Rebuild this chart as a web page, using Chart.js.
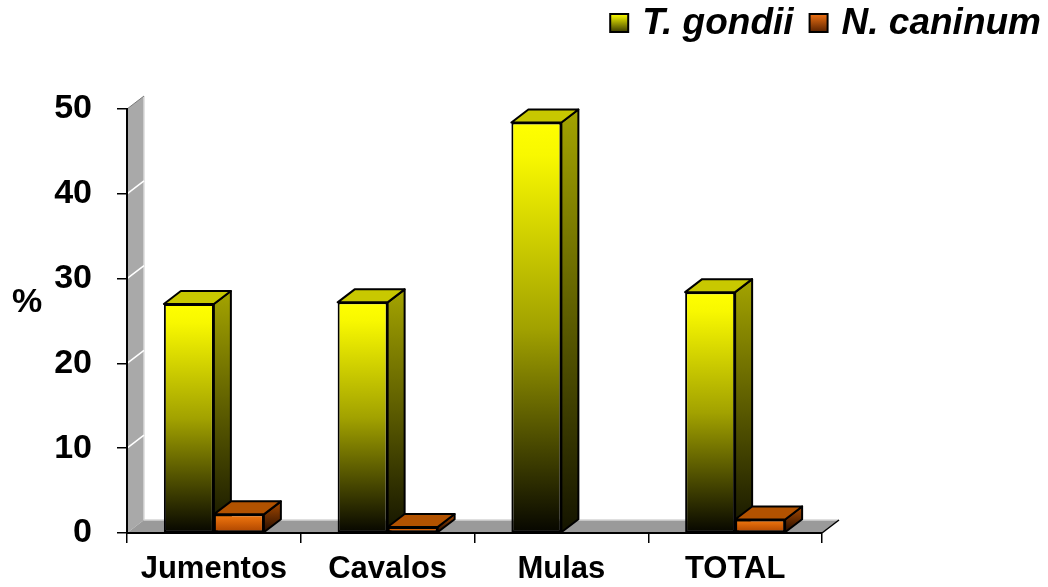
<!DOCTYPE html>
<html>
<head>
<meta charset="utf-8">
<style>
  html, body { margin: 0; padding: 0; background: #ffffff; }
  #wrap { width: 1048px; height: 587px; }
</style>
<script src="https://cdn.jsdelivr.net/npm/chart.js@4.4.1/dist/chart.umd.min.js"></script>
</head>
<body>
<div id="wrap"><canvas id="c" width="1048" height="587"></canvas></div>
<script>
// Seroprevalence (%) by animal group
const categories = ['Jumentos', 'Cavalos', 'Mulas', 'TOTAL'];
const tGondii    = [27.0, 27.2, 48.4, 28.4];
const nCaninum   = [2.2, 0.7, 0, 1.6];
const seriesNames = ['T. gondii', 'N. caninum'];
const yTicks = [0, 10, 20, 30, 40, 50];
const yAxisLabel = '%';

const FONT = '"Liberation Sans", Arial, Helvetica, sans-serif';
const DEPTH_X = 17;   // horizontal shift of the receding edges
const DEPTH_Y = 13;   // vertical shift of the receding edges

const palettes = [
  { front: ['#ffff00', '#f8f800', '#a2a200', '#060600'], side: ['#a4a400', '#141400'], top: '#c8c800', key: ['#ffff00', '#3c3c00'] },
  { front: ['#f27c12', '#ee7610', '#d05e06', '#a84200'], side: ['#a84a00', '#240c00'], top: '#b25200', key: ['#f07214', '#5a2200'] }
];

function frontFill(ctx) {
  const chart = ctx.chart;
  const p = palettes[ctx.datasetIndex];
  if (!chart.chartArea || !chart.scales.y) return p.front[0];
  const ys = chart.scales.y;
  const top = ys.getPixelForValue(ctx.raw);
  const base = ys.getPixelForValue(0);
  if (base - top < 1) return p.front[0];
  const g = chart.ctx.createLinearGradient(0, top, 0, base);
  g.addColorStop(0, p.front[0]);
  g.addColorStop(0.08, p.front[1]);
  g.addColorStop(0.5, p.front[2]);
  g.addColorStop(1, p.front[3]);
  return g;
}

function poly(c, pts, fill, stroke, lw) {
  c.beginPath();
  c.moveTo(pts[0][0], pts[0][1]);
  for (let i = 1; i < pts.length; i++) c.lineTo(pts[i][0], pts[i][1]);
  c.closePath();
  if (fill) { c.fillStyle = fill; c.fill(); }
  if (stroke) { c.strokeStyle = stroke; c.lineWidth = lw || 1; c.lineJoin = 'round'; c.stroke(); }
}

// Side wall, floor and the receding faces of each bar
const depthPlugin = {
  id: 'depth3d',
  beforeDraw(chart) {
    const c = chart.ctx;
    const a = chart.chartArea;
    const ys = chart.scales.y;
    const y0 = ys.getPixelForValue(0);
    const yMax = ys.getPixelForValue(ys.max);
    c.save();
    // left wall
    poly(c, [[a.left, y0], [a.left, yMax], [a.left + DEPTH_X, yMax - DEPTH_Y], [a.left + DEPTH_X, y0 - DEPTH_Y]], '#a9a9a9', null);
    c.strokeStyle = '#dadada'; c.lineWidth = 1.5;
    c.beginPath();
    c.moveTo(a.left + DEPTH_X, yMax - DEPTH_Y); c.lineTo(a.left + DEPTH_X, y0 - DEPTH_Y);
    c.stroke();
    c.strokeStyle = '#7a7a7a'; c.lineWidth = 1;
    c.beginPath();
    c.moveTo(a.left, yMax); c.lineTo(a.left + DEPTH_X, yMax - DEPTH_Y);
    c.stroke();
    // wall gridlines
    c.strokeStyle = '#ffffff'; c.lineWidth = 1.5;
    yTicks.forEach(v => {
      if (v === 0 || v === ys.max) return;
      const y = ys.getPixelForValue(v);
      c.beginPath(); c.moveTo(a.left, y); c.lineTo(a.left + DEPTH_X, y - DEPTH_Y); c.stroke();
    });
    // floor
    poly(c, [[a.left, y0], [a.right, y0], [a.right + DEPTH_X, y0 - DEPTH_Y], [a.left + DEPTH_X, y0 - DEPTH_Y]], '#9a9a9a', null);
    c.strokeStyle = '#d4d4d4'; c.lineWidth = 1.5;
    c.beginPath(); c.moveTo(a.left + DEPTH_X, y0 - DEPTH_Y); c.lineTo(a.right + DEPTH_X, y0 - DEPTH_Y); c.stroke();
    c.strokeStyle = '#000000'; c.lineWidth = 1.5;
    c.beginPath(); c.moveTo(a.right, y0); c.lineTo(a.right + DEPTH_X, y0 - DEPTH_Y); c.stroke();
    c.restore();
  },
  beforeDatasetsDraw(chart) {
    const c = chart.ctx;
    c.save();
    chart.data.datasets.forEach((ds, di) => {
      const meta = chart.getDatasetMeta(di);
      const p = palettes[di];
      meta.data.forEach((el, i) => {
        if (!(ds.data[i] > 0)) return;
        const { x, y, base, width } = el.getProps(['x', 'y', 'base', 'width'], true);
        const l = x - width / 2, r = x + width / 2;
        const g = c.createLinearGradient(0, y - DEPTH_Y, 0, base);
        g.addColorStop(0, p.side[0]);
        g.addColorStop(1, p.side[1]);
        poly(c, [[r, y], [r + DEPTH_X, y - DEPTH_Y], [r + DEPTH_X, base - DEPTH_Y], [r, base]], g, '#000000', 2);
        poly(c, [[l, y], [l + DEPTH_X, y - DEPTH_Y], [r + DEPTH_X, y - DEPTH_Y], [r, y]], p.top, '#000000', 2);
      });
    });
    c.restore();
  },
  afterDraw(chart) {
    const c = chart.ctx;
    c.save();
    // value axis caption
    c.fillStyle = '#000000';
    c.font = 'bold 34px ' + FONT;
    c.textAlign = 'center';
    c.textBaseline = 'middle';
    c.fillText(yAxisLabel, 27, 303);
    // legend, laid out from the right edge
    c.font = 'italic bold 37px ' + FONT;
    c.textAlign = 'left';
    c.textBaseline = 'alphabetic';
    const box = 18, gapBox = 14, gapItem = 16, rightEdge = 1041, baseline = 34;
    const widths = seriesNames.map(n => c.measureText(n).width);
    let x = rightEdge - widths.reduce((s, w) => s + w, 0) - seriesNames.length * (box + gapBox) - (seriesNames.length - 1) * gapItem;
    seriesNames.forEach((name, i) => {
      const p = palettes[i];
      const by = 14;
      const g = c.createLinearGradient(0, by, 0, by + box);
      g.addColorStop(0, p.key[0]);
      g.addColorStop(1, p.key[1]);
      c.fillStyle = g;
      c.fillRect(x, by, box, box);
      c.strokeStyle = '#000000'; c.lineWidth = 2;
      c.strokeRect(x, by, box, box);
      x += box + gapBox;
      c.fillStyle = '#000000';
      c.fillText(name, x, baseline);
      x += widths[i] + gapItem;
    });
    c.restore();
  }
};

const barStyle = {
  categoryPercentage: 0.5755,
  barPercentage: 1,
  backgroundColor: frontFill,
  borderColor: '#000000',
  borderWidth: ctx => (ctx.raw > 0 ? 2 : 0),
  borderSkipped: false
};

new Chart(document.getElementById('c'), {
  type: 'bar',
  data: {
    labels: categories,
    datasets: [
      Object.assign({ label: seriesNames[0], data: tGondii }, barStyle),
      Object.assign({ label: seriesNames[1], data: nCaninum }, barStyle)
    ]
  },
  options: {
    responsive: false,
    animation: false,
    devicePixelRatio: 1,
    layout: { padding: { left: 0, right: 226, top: 109, bottom: 0 } },
    plugins: { legend: { display: false }, tooltip: { enabled: false }, colors: { enabled: false } },
    scales: {
      x: {
        grid: { offset: true, drawOnChartArea: false, tickLength: 10, color: '#000000', lineWidth: 1.5 },
        border: { display: true, color: '#000000', width: 2 },
        ticks: { font: { family: FONT, size: 31, weight: 'bold' }, color: '#000000', padding: 8, maxRotation: 0, autoSkip: false },
        afterFit(s) { s.height = 54; }
      },
      y: {
        min: 0,
        max: 50,
        afterBuildTicks(s) { s.ticks = yTicks.map(v => ({ value: v })); },
        grid: { drawOnChartArea: false, tickLength: 10, color: '#000000', lineWidth: 1.5 },
        border: { display: true, color: '#000000', width: 2 },
        ticks: { font: { family: FONT, size: 34, weight: 'bold' }, color: '#000000', padding: 25 },
        afterFit(s) { s.width = 127; }
      }
    }
  },
  plugins: [depthPlugin]
});
</script>
</body>
</html>
